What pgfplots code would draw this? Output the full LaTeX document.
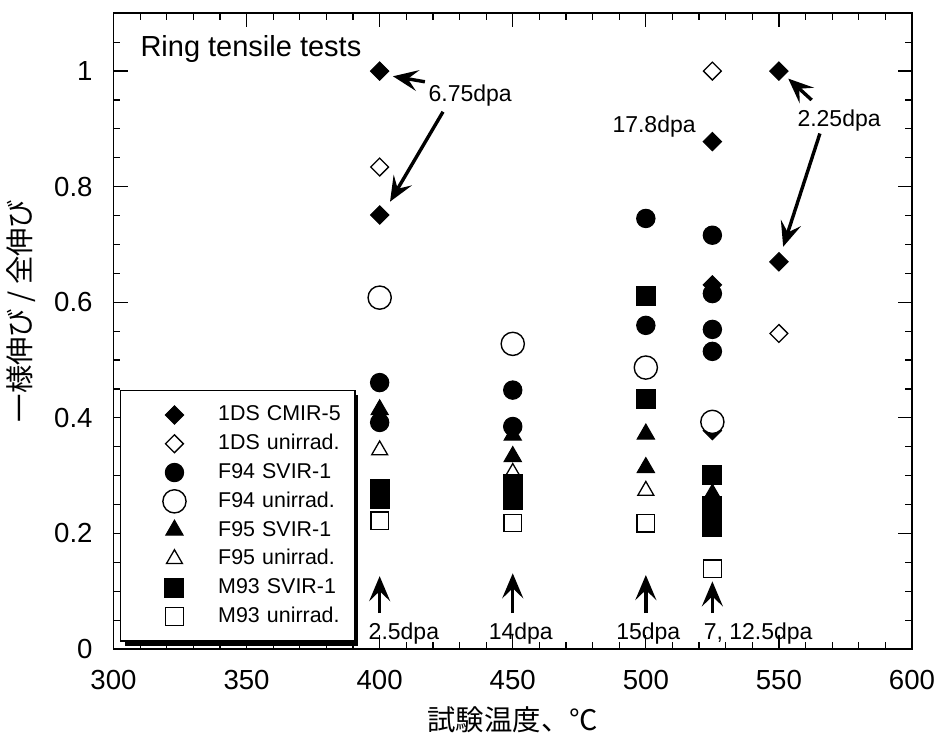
\documentclass[border=0pt]{standalone}
\usepackage{fontspec}
\setmainfont{Liberation Sans}
\newfontfamily\jp{Noto Sans CJK JP}
\usepackage{pgfplots}
\pgfplotsset{compat=1.18}
\usetikzlibrary{arrows.meta}

\pgfplotsset{
  limg/.style={only marks,
    legend image code/.code={\path (0pt,-6pt) (48pt,6pt);
      \draw[##1] plot coordinates {(26.5pt,0pt)};}},
  s1/.style={limg, mark=square*, mark size=3.25pt, mark options={rotate=45, fill=black, draw=black, line width=0.5pt}},
  s2/.style={limg, mark=square*, mark size=3.15pt, mark options={rotate=45, fill=white, draw=black, line width=0.65pt}},
  s3/.style={limg, mark=*, mark size=4.6pt, mark options={fill=black, draw=black, line width=0.5pt}},
  s4/.style={limg, mark=*, mark size=5.8pt, mark options={fill=white, draw=black, line width=0.7pt}},
  s5/.style={limg, mark=triangle*, mark size=5pt, mark options={fill=black, draw=black, line width=0.5pt}},
  s6/.style={limg, mark=triangle*, mark size=4.6pt, mark options={fill=white, draw=black, line width=0.65pt}},
  s7/.style={limg, mark=square*, mark size=4.75pt, mark options={fill=black, draw=black, line width=0.5pt}},
  s8/.style={limg, mark=square*, mark size=4.4pt, mark options={fill=white, draw=black, line width=0.65pt}},
}

\begin{document}
\begin{tikzpicture}[
  ann/.style={line width=1.7pt, -{Stealth[length=12.5pt,width=10.5pt,inset=5pt]}},
  annf/.style={font=\fontsize{11.5}{13}\selectfont, inner sep=0pt}]
\begin{axis}[
  name=ax,
  at={(0,0)}, anchor=south west,
  scale only axis,
  width=399.25pt, height=317.85pt,
  xmin=300, xmax=600, ymin=0, ymax=1.1,
  xtick={300,350,...,600},
  ytick={0,0.2,0.4,0.6,0.8,1},
  minor x tick num=4,
  minor ytick={0.05,0.1,0.15,0.25,0.3,0.35,0.45,0.5,0.55,0.65,0.7,0.75,0.85,0.9,0.95,1.05},
  tick align=inside,
  major tick length=7pt, minor tick length=3.5pt,
  every tick/.style={black, line width=0.6pt},
  axis line style={line width=0.9pt},
  /pgf/number format/assume math mode=true,
  tick label style={font=\fontsize{13.8}{16}\selectfont},
  xticklabel style={anchor=center, inner sep=0pt, yshift=-15.5pt},
  yticklabel style={anchor=east, inner sep=0pt, xshift=-10.25pt},
  xlabel={\jp 試験温度、℃},
  ylabel={\jp 一様伸び / 全伸び},
  xlabel style={at={(rel axis cs:0.5,-0.1117)}, anchor=center, font=\fontsize{14.2}{16}\selectfont},
  ylabel style={at={(rel axis cs:-0.1158,0.5317)}, anchor=center, font=\fontsize{14.2}{16}\selectfont},
  clip=false,
  legend cell align=left,
  legend style={
    at={(rel axis cs:0.0081,0.0115)}, anchor=south west,
    draw=black, line width=0.75pt, fill=white,
    inner xsep=0pt, inner ysep=5pt,
    column sep=0pt,
    nodes={inner sep=0pt, text height=10.2pt, text depth=4.2pt, text width=68.5pt, align=left,
      font=\fontsize{10.7}{12}\selectfont},
  },
]
% legend shadow (drawn before the legend box, which covers all but its offset edge)
\fill[black] ([shift={(2.6pt,-2.3pt)}]rel axis cs:0.0081,0.0115) rectangle ([shift={(119.2pt,123.3pt)}]rel axis cs:0.0081,0.0115);

\addplot[s1] coordinates {(400,1.0) (400,0.751) (525,0.878) (525,0.63) (525,0.378) (550,1.0) (550,0.67)};
\addlegendentry{1DS CMIR-5}
\addplot[s2] coordinates {(400,0.834) (525,1.0) (550,0.546)};
\addlegendentry{1DS unirrad.}
\addplot[s3] coordinates {(400,0.461) (400,0.392) (450,0.448) (450,0.385) (500,0.745) (500,0.56) (525,0.716) (525,0.615) (525,0.553) (525,0.515)};
\addlegendentry{F94 SVIR-1}
\addplot[s4] coordinates {(400,0.608) (450,0.528) (500,0.487) (525,0.393)};
\addlegendentry{F94 unirrad.}
\addplot[s5] coordinates {(400,0.414) (450,0.370) (450,0.333) (500,0.372) (500,0.314) (525,0.268)};
\addlegendentry{F95 SVIR-1}
\addplot[s6] coordinates {(400,0.344) (450,0.305) (500,0.274)};
\addlegendentry{F95 unirrad.}
\addplot[s7] coordinates {(400,0.276) (400,0.260) (450,0.286) (450,0.27) (450,0.257) (500,0.61) (500,0.4325) (525,0.301) (525,0.247) (525,0.229) (525,0.211)};
\addlegendentry{M93 SVIR-1}
\addplot[s8] coordinates {(400,0.222) (450,0.218) (500,0.2175) (525,0.139)};
\addlegendentry{M93 unirrad.}

\node[font=\fontsize{14.5}{17}\selectfont, anchor=west, inner sep=0pt] at (axis cs:310,1.038) {Ring tensile tests};
\node[annf] at (axis cs:434.0,0.958) {6.75dpa};
\node[annf] at (axis cs:503.1,0.904) {17.8dpa};
\node[annf] at (axis cs:572.6,0.915) {2.25dpa};
\node[annf] at (axis cs:409.1,0.026) {2.5dpa};
\node[annf] at (axis cs:453.0,0.026) {14dpa};
\node[annf] at (axis cs:500.9,0.026) {15dpa};
\node[annf] at (axis cs:542.2,0.026) {7, 12.5dpa};

\draw[ann] (axis cs:417.0,0.9815) -- (axis cs:405.0,0.991);
\draw[ann] (axis cs:423.8,0.9296) -- (axis cs:403.9,0.774);
\draw[ann] (axis cs:562.3,0.950) -- (axis cs:553.5,0.987);
\draw[ann] (axis cs:565.4,0.892) -- (axis cs:551.6,0.696);
\draw[ann] (axis cs:400,0.062) -- (axis cs:400,0.126);
\draw[ann] (axis cs:450,0.062) -- (axis cs:450,0.131);
\draw[ann] (axis cs:500,0.062) -- (axis cs:500,0.128);
\draw[ann] (axis cs:525,0.062) -- (axis cs:525,0.117);
\end{axis}
\pgfresetboundingbox
\path[use as bounding box] ([shift={(-56.75pt,-45pt)}]ax.south west) rectangle ([shift={(12.5pt,6.65pt)}]ax.north east);
\end{tikzpicture}
\end{document}
